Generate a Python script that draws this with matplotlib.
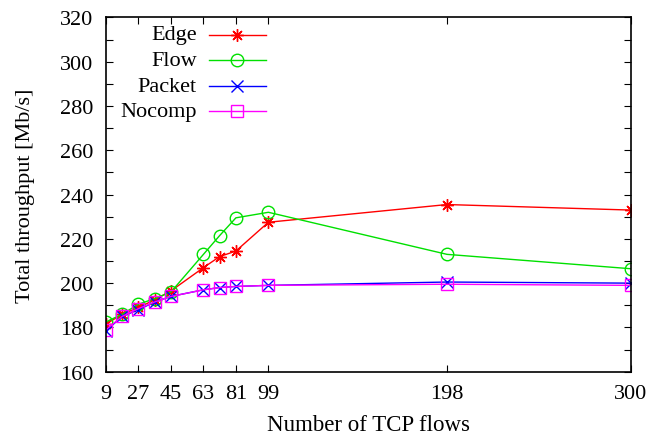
import numpy as np
import matplotlib
matplotlib.use('Agg')
import matplotlib.pyplot as plt
from matplotlib.lines import Line2D
from matplotlib.ticker import MultipleLocator

plt.rcParams['font.family'] = ['Liberation Serif', 'DejaVu Serif']

# number of TCP flows
flows = [9, 18, 27, 36, 45, 63, 72, 81, 99, 198, 300]
xticks = [9, 27, 45, 63, 81, 99, 198, 300]

# total throughput [Mb/s]
edge = [181.5, 186, 189, 192.5, 196.5, 207, 212, 214.5, 227.5, 235.5, 233]
flow = [182.5, 186, 190.5, 193, 196, 213, 221.5, 229.5, 232, 213, 206.5]
packet = [178.5, 185, 188, 191.5, 194, 197, 198, 198.5, 199, 200.5, 200]
nocomp = [179, 185, 188.5, 191.5, 194, 197, 198, 198.5, 199, 199.5, 199]

series = [
    ('Edge', edge, 'red', (8, 2, 0), 'red'),
    ('Flow', flow, '#00e000', 'o', 'none'),
    ('Packet', packet, 'blue', 'x', 'blue'),
    ('Nocomp', nocomp, 'magenta', 's', 'none'),
]

fig = plt.figure(figsize=(6.48, 4.39), dpi=100)
ax = fig.add_axes([0.1636, 0.151, 0.8102, 0.807])

for name, ys, col, mk, fc in series:
    ax.plot(flows, ys, color=col, lw=1.0, marker=mk, markersize=9,
            markerfacecolor=fc, markeredgecolor=col, markeredgewidth=1.0)

ax.set_xlim(9, 300)
ax.set_ylim(160, 320)
ax.set_xticks(xticks)
ax.yaxis.set_major_locator(MultipleLocator(20))
ax.yaxis.set_minor_locator(MultipleLocator(10))
ax.tick_params(which='both', direction='in', top=True, right=True,
               labelsize=16, width=0.8, length=5)
ax.tick_params(axis='x', which='both', pad=9)
ax.tick_params(axis='y', which='both', pad=9)
for sp in ax.spines.values():
    sp.set_linewidth(1.2)

ax.set_xlabel('Number of TCP flows', fontsize=16.5, labelpad=8)
ax.set_ylabel('Total throughput [Mb/s]', fontsize=16, labelpad=18)

# gnuplot-style key: right-aligned labels, sample line on the right
key_y = [0.951, 0.879, 0.806, 0.735]
for (name, ys, col, mk, fc), ky in zip(series, key_y):
    ax.text(0.173, ky, name, transform=ax.transAxes, ha='right', va='center',
            fontsize=16)
    ax.add_line(Line2D([0.196, 0.304], [ky, ky], transform=ax.transAxes,
                       color=col, lw=1.0))
    ax.add_line(Line2D([0.2495], [ky], transform=ax.transAxes, color=col,
                       marker=mk, markersize=9, markerfacecolor=fc,
                       markeredgecolor=col, markeredgewidth=1.0))

fig.savefig('out.png', dpi=100)
